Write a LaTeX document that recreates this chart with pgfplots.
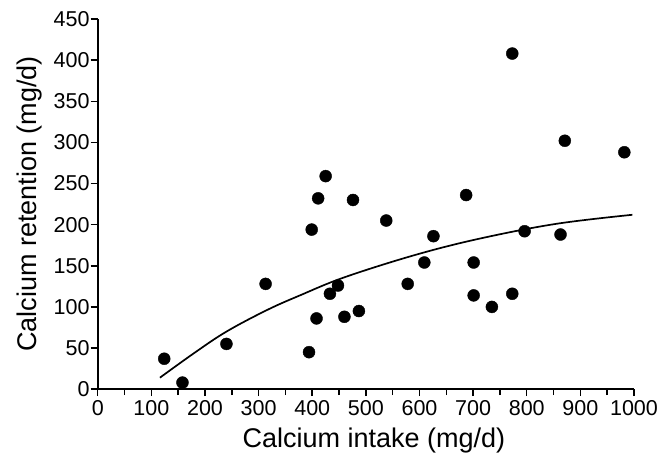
\documentclass[border=0pt]{standalone}
\usepackage{fontspec}
\setmainfont{Liberation Sans}
\usepackage{pgfplots}
\pgfplotsset{compat=1.18}
\begin{document}
\begin{tikzpicture}
\begin{axis}[
    scale only axis,
    width=536pt, height=370pt,
    xmin=0, xmax=1000,
    ymin=0, ymax=450,
    axis lines=left,
    axis line style={line width=1.7pt, -},
    xtick={0,100,...,1000},
    ytick={0,50,...,450},
    minor x tick num=1,
    tick align=outside,
    major tick length=7pt,
    minor tick length=6pt,
    every tick/.style={line width=1.5pt, black},
    tick label style={font=\fontsize{21.5}{23}\selectfont},
    xticklabel style={inner sep=4pt},
    yticklabel style={inner sep=1pt},
    /pgf/number format/assume math mode=true,
    /pgf/number format/1000 sep={},
    xlabel={Calcium intake (mg/d)},
    ylabel={Calcium retention (mg/d)},
    label style={font=\fontsize{27}{29}\selectfont},
    xlabel style={at={(axis description cs:0.515,-0.138)}, anchor=center},
    ylabel style={at={(axis description cs:-0.1263,0.5)}, anchor=center},
    clip=false,
]
\addplot[only marks, mark=*, mark size=6pt, black] coordinates {
    (124,37) (158,8) (240,55) (313,128) (394,45) (408,86) (399,194)
    (411,232) (425,259) (433,116) (448,126) (460,88) (476,230) (487,95)
    (538,205) (578,128) (609,154) (626,186) (687,236) (701,154) (701,114)
    (735,100) (773,116) (773,408) (796,192) (863,188) (871,302) (982,288)
};
\addplot[black, line width=1.7pt, smooth, tension=0.6] coordinates {
    (116,14) (180,44) (240,70) (315,96) (377,114) (460,136) (591,163)
    (712,183) (855,201) (997,212)
};
\end{axis}
\pgfresetboundingbox
\path[use as bounding box] ([shift={(-97.7pt,-69pt)}]current axis.south west)
    rectangle ([shift={(37pt,19pt)}]current axis.north east);
\end{tikzpicture}
\end{document}
